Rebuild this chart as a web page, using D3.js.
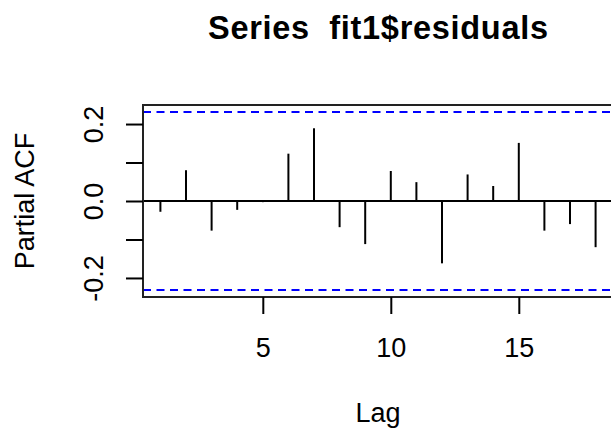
<!DOCTYPE html>
<html>
<head>
<meta charset="utf-8">
<script src="https://cdn.jsdelivr.net/npm/d3@7"></script>
<style>
  html, body { margin: 0; padding: 0; background: #fff; overflow: hidden; }
  svg { display: block; font-family: "Liberation Sans", Arial, sans-serif; }
</style>
</head>
<body>
<svg id="chart" width="611" height="428"></svg>
<script>
const lags = [1,2,3,4,5,6,7,8,9,10,11,12,13,14,15,16,17,18];
const pacfValues = [-0.028, 0.080, -0.077, -0.023, -0.003, 0.123, 0.189, -0.068, -0.112,
                    0.078, 0.049, -0.162, 0.069, 0.039, 0.151, -0.077, -0.060, -0.120];
const confLimit = 0.231;
const xTicks = [5, 10, 15];
const yTicks = [-0.2, -0.1, 0.0, 0.1, 0.2];
const yTickLabels = ["-0.2", "", "0.0", "", "0.2"];
const titleText = "Series  fit1$residuals";
const xLabel = "Lag";
const yLabel = "Partial ACF";

const svg = d3.select("#chart");
svg.append("rect").attr("width", 611).attr("height", 428).attr("fill", "#fff");

const plot = { left: 143, right: 613, top: 105, bottom: 297 };
const lagMin = d3.min(lags), lagMax = d3.max(lags);
const padX = 0.04 * (lagMax - lagMin);
const x = d3.scaleLinear().domain([lagMin - padX, lagMax + padX]).range([plot.left, plot.right]);
const yExt = confLimit * 1.08;
const y = d3.scaleLinear().domain([-yExt, yExt]).range([plot.bottom, plot.top]);

const ink = "#000";

// zero line
svg.append("line")
  .attr("x1", plot.left).attr("x2", plot.right)
  .attr("y1", y(0)).attr("y2", y(0))
  .attr("stroke", ink).attr("stroke-width", 2);

// stems
svg.append("g").selectAll("line").data(lags).join("line")
  .attr("x1", d => x(d)).attr("x2", d => x(d))
  .attr("y1", y(0)).attr("y2", (d, i) => y(pacfValues[i]))
  .attr("stroke", ink).attr("stroke-width", 2);

// confidence limits
[confLimit, -confLimit].forEach(c => {
  svg.append("line")
    .attr("x1", plot.left).attr("x2", plot.right)
    .attr("y1", y(c)).attr("y2", y(c))
    .attr("stroke", "#0000ff").attr("stroke-width", 2)
    .attr("stroke-dasharray", "8,5.5");
});

// box
svg.append("rect")
  .attr("x", plot.left).attr("y", plot.top)
  .attr("width", plot.right - plot.left).attr("height", plot.bottom - plot.top)
  .attr("fill", "none").attr("stroke", "#222").attr("stroke-width", 2);

// x axis
const xAxis = d3.axisBottom(x).tickValues(xTicks).tickSize(17).tickPadding(24).tickFormat(d3.format("d"));
const gx = svg.append("g").attr("transform", `translate(0,${plot.bottom})`).call(xAxis);
gx.select(".domain").remove();
gx.selectAll(".tick line").attr("stroke", ink).attr("stroke-width", 2);
gx.selectAll(".tick text").attr("fill", ink).style("font-size", "27px")
  .style("font-family", "'Liberation Sans', Arial, sans-serif");

// y axis
const yAxis = d3.axisLeft(y).tickValues(yTicks).tickSize(17).tickFormat((d, i) => yTickLabels[i]);
const gy = svg.append("g").attr("transform", `translate(${plot.left},0)`).call(yAxis);
gy.select(".domain").remove();
gy.selectAll(".tick line").attr("stroke", ink).attr("stroke-width", 2);
gy.selectAll(".tick text")
  .attr("fill", ink).style("font-size", "27px")
  .style("font-family", "'Liberation Sans', Arial, sans-serif")
  .attr("x", null).attr("dy", null)
  .attr("text-anchor", "middle")
  .attr("transform", "translate(-40,0) rotate(-90)");

// title
svg.append("text")
  .attr("x", (plot.left + plot.right) / 2).attr("y", 39)
  .attr("text-anchor", "middle")
  .style("font-size", "32.5px").style("font-weight", "bold")
  .style("white-space", "pre")
  .attr("xml:space", "preserve")
  .attr("textLength", 340).attr("lengthAdjust", "spacing")
  .attr("fill", ink)
  .text(titleText);

// x label
svg.append("text")
  .attr("x", (plot.left + plot.right) / 2).attr("y", 421.5)
  .attr("text-anchor", "middle")
  .style("font-size", "27px").attr("fill", ink)
  .text(xLabel);

// y label
svg.append("text")
  .attr("transform", `translate(34,${(plot.top + plot.bottom) / 2}) rotate(-90)`)
  .attr("text-anchor", "middle")
  .style("font-size", "27px").attr("fill", ink)
  .text(yLabel);
</script>
</body>
</html>
